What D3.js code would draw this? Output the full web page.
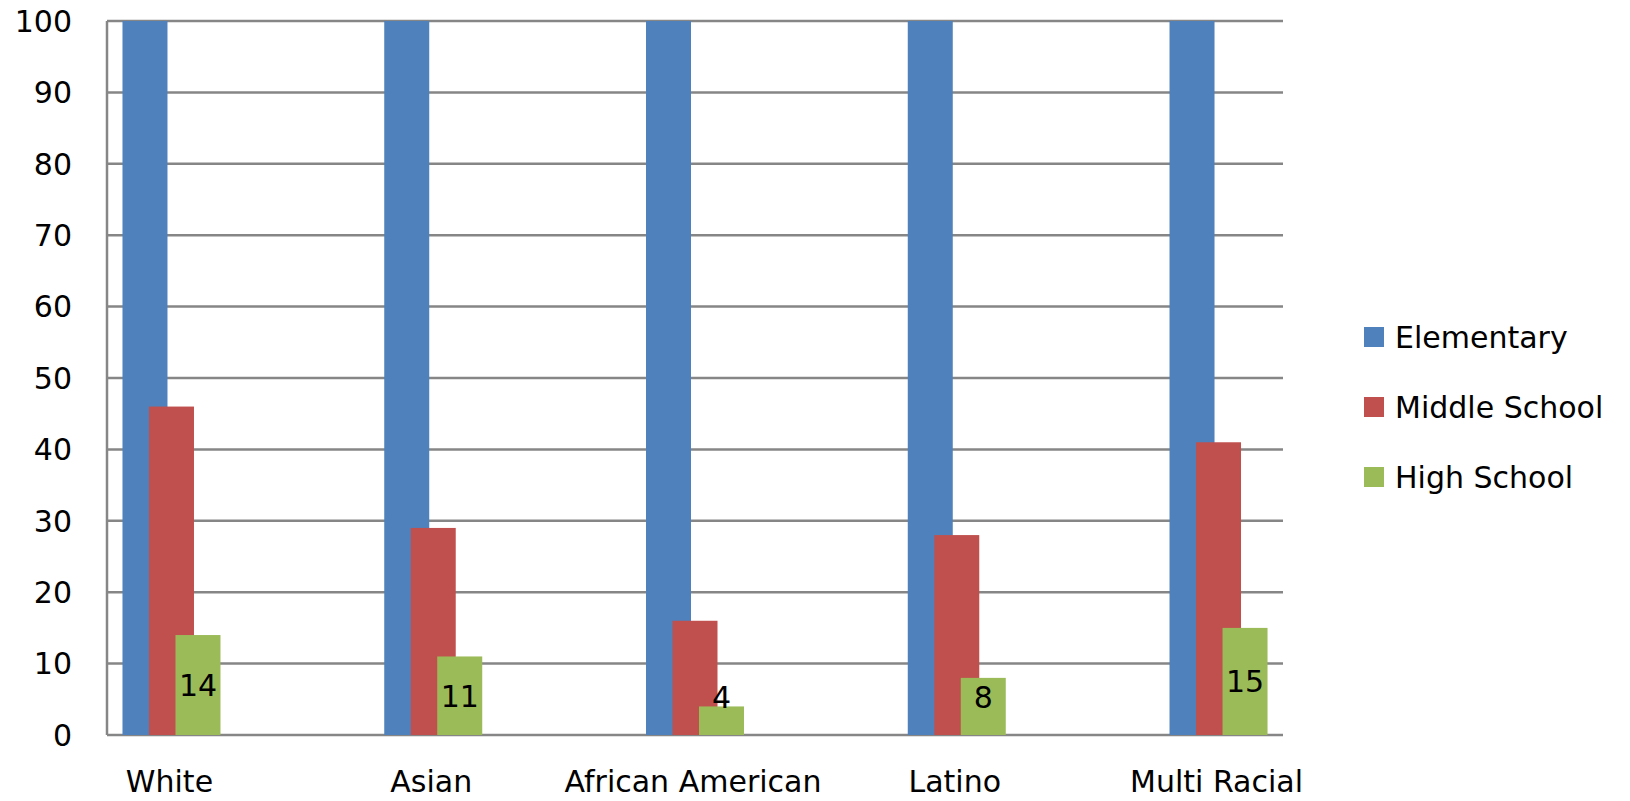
<!DOCTYPE html>
<html>
<head>
<meta charset="utf-8"/>
<style>
  body { margin: 0; background: #fff; }
  text { font-family: "DejaVu Sans", Verdana, sans-serif; fill: #000; }
</style>
</head>
<body>
<div id="chart"></div>
<script src="https://d3js.org/d3.v7.min.js"></script>
<script>
// data
var categories = ["White", "Asian", "African American", "Latino", "Multi Racial"];
var seriesNames = ["Elementary", "Middle School", "High School"];
var elementary = [100, 100, 100, 100, 100];
var middleSchool = [46, 29, 16, 28, 41];
var highSchool = [14, 11, 4, 8, 15];
var yTicks = [0, 10, 20, 30, 40, 50, 60, 70, 80, 90, 100];

var colors = ["#4F81BD", "#C0504D", "#9BBB59"];
var seriesVals = [elementary, middleSchool, highSchool];

var W = 1630, H = 801;
var plotL = 107, plotR = 1283, plotT = 21, plotB = 735;
var barW = 45, barShift = 26.5;

var svg = d3.select("#chart").append("svg")
    .attr("width", W).attr("height", H);

var y = d3.scaleLinear().domain([0, 100]).range([plotB, plotT]);

// category bands (bar groups sit in the middle of each band)
var x = d3.scaleBand().domain(categories).range([40.6, 1349.4]).padding(0);
var groupW = barShift * 2 + barW;
function groupStart(c) { return x(c) + x.bandwidth() / 2 - groupW / 2; }

// gridlines
svg.append("g").selectAll("line.grid")
    .data(yTicks)
  .enter().append("line")
    .attr("class", "grid")
    .attr("x1", plotL).attr("x2", plotR)
    .attr("y1", function(d) { return y(d); })
    .attr("y2", function(d) { return y(d); })
    .attr("stroke", "#868686")
    .attr("stroke-width", 2.5);

// y axis line
svg.append("line")
    .attr("x1", plotL).attr("x2", plotL)
    .attr("y1", y(100)).attr("y2", y(0))
    .attr("stroke", "#868686").attr("stroke-width", 2.5);

// y tick labels
svg.append("g").selectAll("text")
    .data(yTicks)
  .enter().append("text")
    .attr("x", 72)
    .attr("y", function(d) { return y(d); })
    .attr("dy", "0.36em")
    .attr("text-anchor", "end")
    .attr("font-size", 30)
    .text(function(d) { return d; });

// bars, one series after the other so later ones overlap
seriesVals.forEach(function(vals, si) {
  svg.append("g").selectAll("rect")
      .data(vals)
    .enter().append("rect")
      .attr("x", function(d, i) { return groupStart(categories[i]) + si * barShift; })
      .attr("y", function(d) { return y(d); })
      .attr("width", barW)
      .attr("height", function(d) { return y(0) - y(d); })
      .attr("fill", colors[si]);
});

// data labels on high school bars
svg.append("g").selectAll("text")
    .data(highSchool)
  .enter().append("text")
    .attr("x", function(d, i) { return groupStart(categories[i]) + 2 * barShift + barW / 2; })
    .attr("y", function(d) { return Math.min((y(d) + y(0)) / 2, y(5.3)); })
    .attr("dy", "0.36em")
    .attr("text-anchor", "middle")
    .attr("font-size", 30)
    .text(function(d) { return d; });

// category labels
svg.append("g").selectAll("text")
    .data(categories)
  .enter().append("text")
    .attr("x", function(d) { return groupStart(d) + groupW / 2 - 2; })
    .attr("y", 792)
    .attr("text-anchor", "middle")
    .attr("font-size", 30)
    .text(function(d) { return d; });

// legend
var legend = svg.append("g").selectAll("g")
    .data(seriesNames)
  .enter().append("g")
    .attr("transform", function(d, i) { return "translate(1364," + (337 + i * 70) + ")"; });

legend.append("rect")
    .attr("x", 0).attr("y", -10)
    .attr("width", 20).attr("height", 20)
    .attr("fill", function(d, i) { return colors[i]; });

legend.append("text")
    .attr("x", 31).attr("y", 0)
    .attr("dy", "0.36em")
    .attr("font-size", 30)
    .text(function(d) { return d; });
</script>
</body>
</html>
